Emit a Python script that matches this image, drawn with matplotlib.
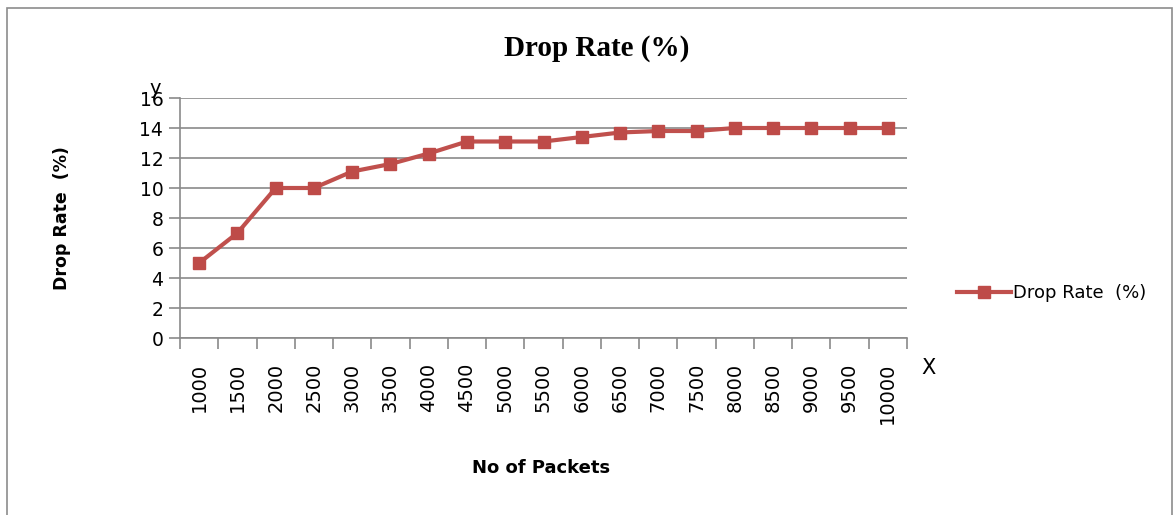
import matplotlib
matplotlib.use("Agg")
import matplotlib.pyplot as plt
from matplotlib.patches import Rectangle

packets = ["1000", "1500", "2000", "2500", "3000", "3500", "4000", "4500", "5000", "5500",
           "6000", "6500", "7000", "7500", "8000", "8500", "9000", "9500", "10000"]
drop_rate = [5, 7, 10, 10, 11.1, 11.6, 12.3, 13.1, 13.1, 13.1,
             13.4, 13.7, 13.8, 13.8, 14, 14, 14, 14, 14]
y_ticks = [0, 2, 4, 6, 8, 10, 12, 14, 16]

W, H = 1174, 515
fig = plt.figure(figsize=(W / 100, H / 100), dpi=100)
fig.patch.set_facecolor("white")

# outer frame
fig.patches.append(Rectangle((7 / W, -0.02), 1165 / W, 1 - 8 / H + 0.02, transform=fig.transFigure,
                             fill=False, edgecolor="#8c8c8c", linewidth=1.2))

ax = fig.add_axes([180 / W, 1 - 338 / H, (907 - 180) / W, (338 - 98) / H])
x = list(range(len(packets)))
red = "#c0504d"
ax.plot(x, drop_rate, color=red, linewidth=3, marker="s", markersize=9,
        markerfacecolor="#be4b48", markeredgecolor="#be4b48", label="Drop Rate  (%)",
        zorder=3)

ax.set_xlim(-0.5, len(packets) - 0.5)
ax.set_ylim(0, 16)
ax.set_yticks(y_ticks)
ax.set_yticklabels([str(v) for v in y_ticks], fontsize=13.5, family="DejaVu Sans")
ax.grid(axis="y", color="#8a8a8a", linewidth=1.2)
ax.set_axisbelow(True)

# category ticks between categories
ax.set_xticks([i - 0.5 for i in range(len(packets) + 1)], minor=False)
ax.set_xticklabels([])
ax.set_xticks(x, minor=True)
ax.set_xticklabels(packets, minor=True, rotation=90, fontsize=14, family="DejaVu Sans")
ax.tick_params(axis="x", which="major", length=8, color="#8a8a8a", width=1.2)
ax.tick_params(axis="x", which="minor", length=0, pad=18)
ax.tick_params(axis="y", length=8, color="#8a8a8a", width=1.2, pad=4)

for s in ["top", "right"]:
    ax.spines[s].set_visible(False)
ax.spines["left"].set_color("#8a8a8a")
ax.spines["bottom"].set_color("#8a8a8a")
ax.spines["left"].set_linewidth(1.2)
ax.spines["bottom"].set_linewidth(1.2)

fig.text(597 / W, 1 - 48 / H, "Drop Rate (%)", ha="center", va="center",
         fontsize=21, fontweight="bold", family="Liberation Serif")
fig.text(62 / W, 1 - 218 / H, "Drop Rate  (%)", ha="center", va="center", rotation=90,
         fontsize=12.5, fontweight="bold", family="DejaVu Sans")
fig.text(541 / W, 1 - 468 / H, "No of Packets", ha="center", va="center",
         fontsize=13, fontweight="bold", family="DejaVu Sans")
fig.text(155 / W, 1 - 88 / H, "y", ha="center", va="center", fontsize=14, family="DejaVu Sans")
fig.text(929 / W, 1 - 368 / H, "X", ha="center", va="center", fontsize=15, family="DejaVu Sans")

leg = fig.legend(loc="center left", bbox_to_anchor=(941 / W, 1 - 293 / H), frameon=False,
                 fontsize=13, handlelength=3.0, handletextpad=0.1)

fig.savefig("out.png", dpi=100)
